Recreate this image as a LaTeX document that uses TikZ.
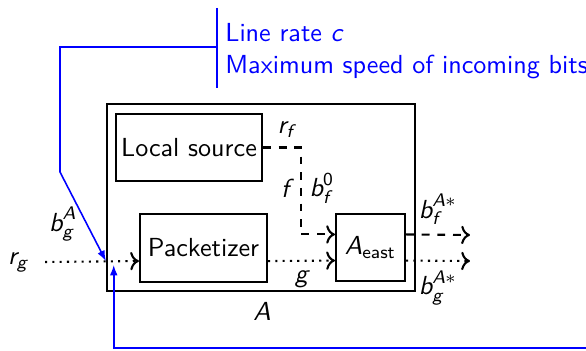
\documentclass[tikz,border=0pt]{standalone}
\usepackage{amsmath}
\usetikzlibrary{arrows.meta,positioning}
\newcommand\mv[1]{\textsf{\itshape #1}}

\begin{document}
\begin{tikzpicture}[
  x=0.383pt, y=-0.383pt,
  font=\sffamily,
  blk/.style={draw, thick, inner sep=0pt},
  flowf/.style={dashed, thick, ->},
  flowg/.style={dotted, thick, ->},
  ctrl/.style={blue, semithick, -{Latex[length=4pt]}}
]
\useasboundingbox (0,0) rectangle (586,350);
% node A and its parts
\node[draw, thick, minimum width=118pt, minimum height=71.6pt] (A) at (261,197.5) {};
\node[blk, minimum width=55.9pt, minimum height=25.7pt] (src) at (189,147.5) {Local source};
\node[blk, minimum width=48.6pt, minimum height=26pt] (pkt) at (203.5,248) {Packetizer};
\node[blk, minimum width=26.4pt, minimum height=25.7pt] (east) at (370.5,247.5) {$\mv{A}_{\textsf{east}}$};
\node (Alabel) at (262,311) {$\mv{A}$};
% flow f
\draw[flowf] (src.east) -- ++(38,0) node[pos=0.6, above] {$\mv{r}_{\mv{f}}$} |- ([yshift=5pt]east.west);
\node (flab) at (285,188) {$\mv{f}$};
\node (b0lab) at (322,188) {$\mv{b}_{\mv{f}}^{\textsf{0}}$};
% flow g
\node (rg) at (18,262) {$\mv{r}_{\mv{g}}$};
\path ([yshift=-5pt]pkt.west) coordinate (pin);
\coordinate (tap) at (pin -| A.west);
\draw[flowg] ([xshift=3pt]rg.east) -- (pin);
\node (bgA) at (63,224) {$\mv{b}_{\mv{g}}^{\mv{A}}$};
\draw[flowg] ([yshift=-5pt]pkt.east) -- node[below] {$\mv{g}$} ([yshift=-5pt]east.west);
% outputs
\coordinate (fout) at (470,235);
\coordinate (gout) at (470,261);
\draw[flowf] ([yshift=5pt]east.east) -- node[above] {$\mv{b}_{\mv{f}}^{\mv{A}*}$} (fout);
\draw[flowg] ([yshift=-5pt]east.east) -- node[below] {$\mv{b}_{\mv{g}}^{\mv{A}*}$} (gout);
% line rate note
\node[blue, align=left, anchor=west, inner xsep=3pt] (note) at (217,51) {Line rate $\mv{c}$\\Maximum speed of incoming bits};
\coordinate (bar) at (217,47);
\draw[blue, semithick] ([yshift=15pt]bar) -- ([yshift=-15.7pt]bar);
\draw[ctrl] (bar) -| (60,172) -- (tap);
\coordinate (fbin) at ([xshift=3pt, yshift=-1.5pt]tap);
\coordinate (fbstart) at (592,348);
\draw[ctrl] (fbstart) -| (fbin);
\end{tikzpicture}
\end{document}
